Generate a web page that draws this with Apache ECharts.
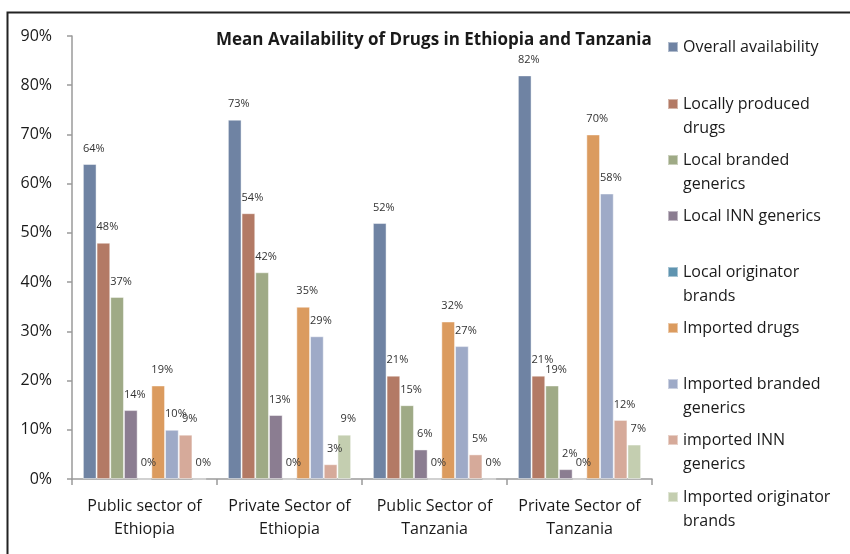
<!DOCTYPE html>
<html>
<head>
<meta charset="utf-8">
<script src="https://cdn.jsdelivr.net/npm/echarts@6/dist/echarts.min.js"></script>
<style>
  html, body { margin: 0; padding: 0; background: #fff; }
  #chart { width: 850px; height: 554px; }
</style>
</head>
<body>
<div id="chart"></div>
<script>
  // categories (x axis)
  var categories = [
    'Public sector of\nEthiopia',
    'Private Sector of\nEthiopia',
    'Public Sector of\nTanzania',
    'Private Sector of\nTanzania'
  ];
  // legend names, in series order
  var seriesNames = [
    'Overall availability',
    'Locally produced drugs',
    'Local branded generics',
    'Local INN generics',
    'Local originator brands',
    'Imported drugs',
    'Imported branded generics',
    'imported INN generics',
    'Imported originator brands'
  ];
  // wrapped legend text as in the picture
  var legendLabels = [
    'Overall availability',
    'Locally produced\ndrugs',
    'Local branded\ngenerics',
    'Local INN generics',
    'Local originator\nbrands',
    'Imported drugs',
    'Imported branded\ngenerics',
    'imported INN\ngenerics',
    'Imported originator\nbrands'
  ];
  // values (%) per series, one per category
  var overall = [64, 73, 52, 82];
  var localProduced = [48, 54, 21, 21];
  var localBranded = [37, 42, 15, 19];
  var localInn = [14, 13, 6, 2];
  var localOriginator = [0, 0, 0, 0];
  var imported = [19, 35, 32, 70];
  var importedBranded = [10, 29, 27, 58];
  var importedInn = [9, 3, 5, 12];
  var importedOriginator = [0, 9, 0, 7];
  var yTicks = [0, 90, 10]; // min, max, interval

  var seriesData = [overall, localProduced, localBranded, localInn, localOriginator,
    imported, importedBranded, importedInn, importedOriginator];
  var color = ['#6f83a3', '#b37a65', '#9faa86', '#8b7d91', '#5f94b0',
    '#db9b5f', '#9eaac7', '#d6aa9a', '#c4ceb0'];

  var font = 'Open Sans';

  // one legend per item so the vertical spacing follows the picture
  // (two-line labels get a blank line on top so the icon sits on the first line)
  var legendTops = [47, 104, 160, 216, 272, 328, 384, 440, 497];
  var legends = seriesNames.map(function (name, i) {
    var twoLines = legendLabels[i].indexOf('\n') >= 0;
    return {
      data: [name],
      left: 667,
      top: legendTops[i] - (twoLines ? 36 : 12),
      padding: 0,
      itemWidth: 10,
      itemHeight: 10,
      icon: 'rect',
      selectedMode: false,
      formatter: function () { return twoLines ? ' \n' + legendLabels[i] : legendLabels[i]; },
      textStyle: {
        fontFamily: font,
        fontSize: 16,
        color: '#1a1a1a',
        lineHeight: 24
      }
    };
  });

  var series = seriesNames.map(function (name, i) {
    return {
      name: name,
      type: 'bar',
      barGap: 0,
      barCategoryGap: '15%',
      itemStyle: { color: color[i], borderColor: 'rgba(255,255,255,0.45)', borderWidth: 1 },
      label: {
        show: true,
        position: 'top',
        distance: 10,
        offset: [4, 0],
        formatter: '{c}%',
        fontFamily: font,
        fontSize: 11,
        color: '#333'
      },
      data: seriesData[i]
    };
  });

  var myChart = echarts.init(document.getElementById('chart'));
  var option = {
    animation: false,
    backgroundColor: '#fff',
    title: {
      text: 'Mean Availability of Drugs in Ethiopia and Tanzania',
      left: 211,
      top: 27,
      textStyle: { fontFamily: font, fontSize: 17, fontWeight: 'bold', color: '#1a1a1a' }
    },
    legend: legends,
    grid: { left: 72, right: 198, top: 36, bottom: 75 },
    xAxis: {
      type: 'category',
      data: categories,
      axisLine: { lineStyle: { color: '#9a9a9a', width: 1.5 } },
      axisTick: { show: true, length: 6, lineStyle: { color: '#9a9a9a', width: 1.5 } },
      axisLabel: { interval: 0, fontFamily: font, fontSize: 16, color: '#1a1a1a', lineHeight: 23, margin: 16 }
    },
    yAxis: {
      type: 'value',
      min: yTicks[0],
      max: yTicks[1],
      interval: yTicks[2],
      axisLine: { show: true, lineStyle: { color: '#9a9a9a', width: 1.5 } },
      axisTick: { show: true, length: 5, lineStyle: { color: '#9a9a9a', width: 1.5 } },
      splitLine: { show: false },
      axisLabel: { fontFamily: font, fontSize: 16, color: '#1a1a1a', margin: 20, formatter: '{value}%' }
    },
    graphic: [{
      type: 'rect',
      shape: { x: 7.5, y: 12.5, width: 900, height: 600 },
      style: { fill: null, stroke: '#222', lineWidth: 2 },
      silent: true
    }],
    series: series
  };
  myChart.setOption(option, true);
</script>
</body>
</html>
